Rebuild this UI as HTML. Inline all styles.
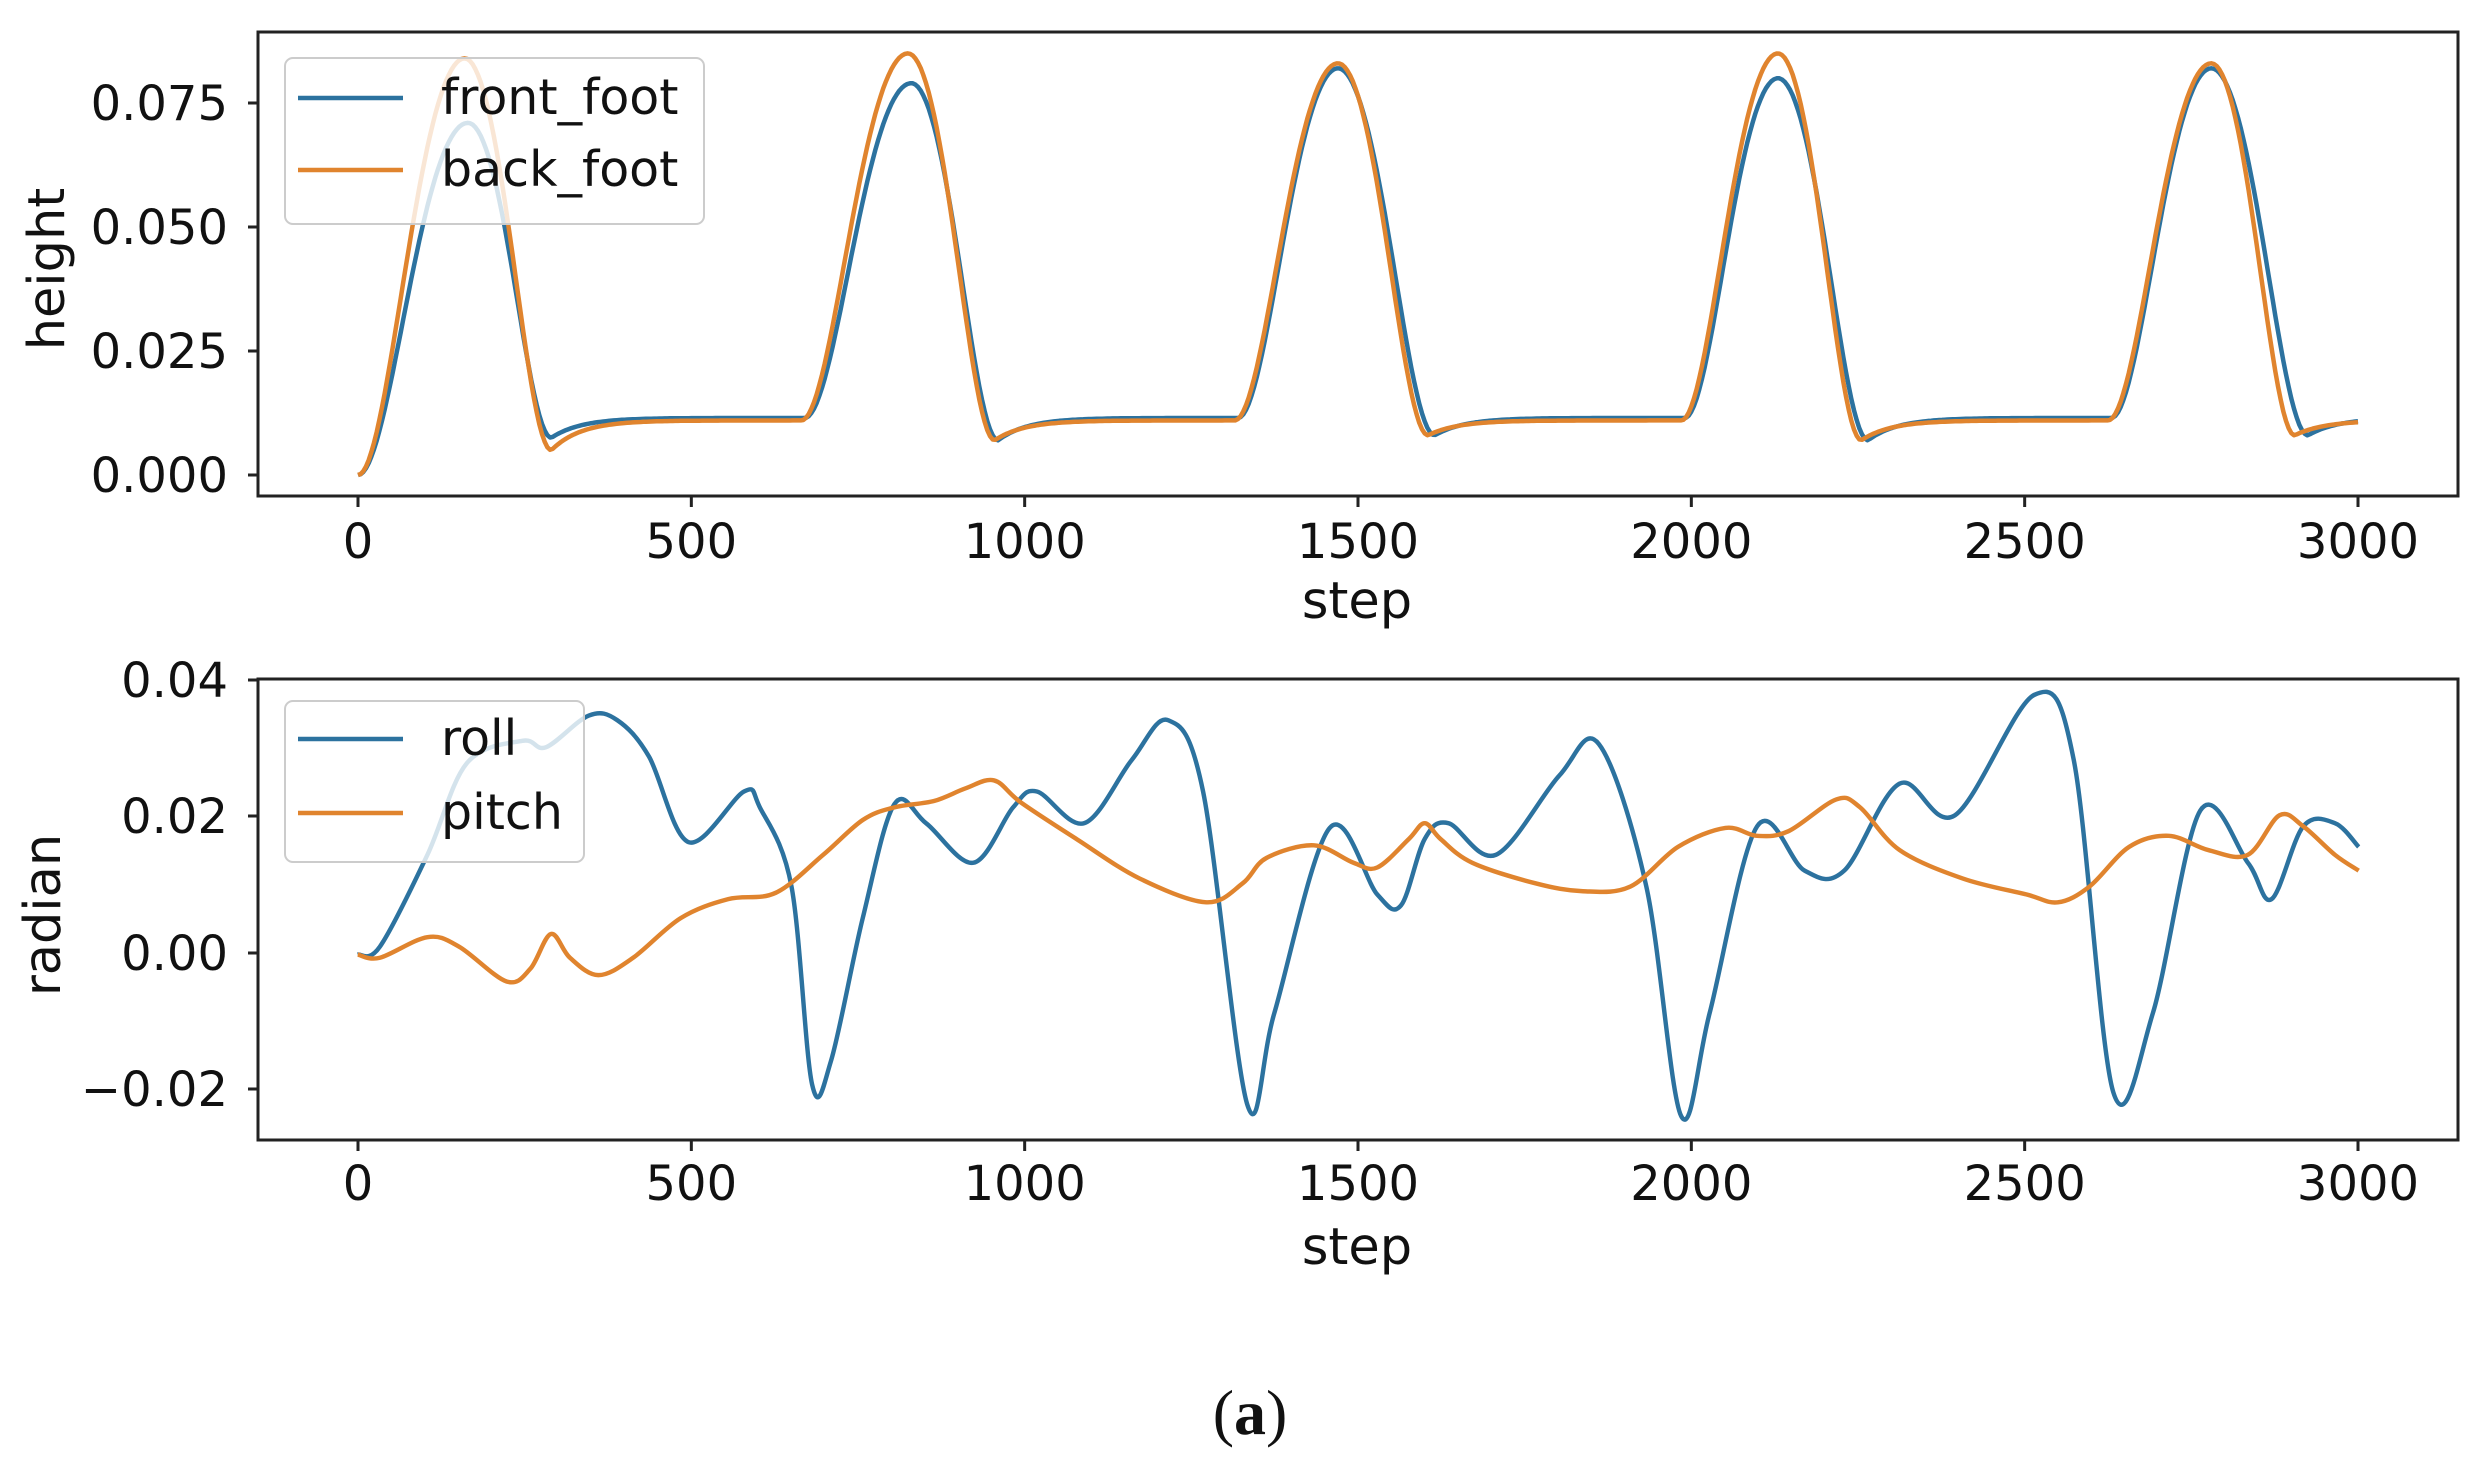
<!DOCTYPE html>
<html><head><meta charset="utf-8"><style>
html,body{margin:0;padding:0;background:#fff;}
svg{display:block}
text{font-family:"DejaVu Sans","Liberation Sans",sans-serif;fill:#111}
</style></head><body>
<svg id="s" width="2482" height="1470" viewBox="0 0 2482 1470" xmlns="http://www.w3.org/2000/svg">
<rect width="2482" height="1470" fill="#fff"/>
<g id="data"></g>
<rect x="258" y="32" width="2200" height="464" fill="none" stroke="#222" stroke-width="3"/>
<rect x="258" y="679" width="2200" height="461" fill="none" stroke="#222" stroke-width="3"/>
<g stroke="#222" stroke-width="3" id="ticks"></g>
<g font-size="48" text-anchor="middle" id="xl"></g>
<g font-size="48" text-anchor="end">
<text x="228" y="120">0.075</text><text x="228" y="244">0.050</text><text x="228" y="368">0.025</text><text x="228" y="492">0.000</text>
<text x="228" y="697">0.04</text><text x="228" y="833">0.02</text><text x="228" y="970">0.00</text><text x="228" y="1106">−0.02</text>
</g>
<text x="1357" y="618" font-size="51" text-anchor="middle">step</text>
<text x="1357" y="1264" font-size="51" text-anchor="middle">step</text>
<text transform="translate(64,269) rotate(-90)" font-size="51" text-anchor="middle">height</text>
<text transform="translate(60,915) rotate(-90)" font-size="51" text-anchor="middle">radian</text>
<rect x="285" y="58" width="419" height="166" rx="8" fill="#fff" fill-opacity="0.8" stroke="#ccc" stroke-width="2"/>
<line x1="298" y1="98" x2="403" y2="98" stroke="#2c729f" stroke-width="4.5"/>
<line x1="298" y1="170" x2="403" y2="170" stroke="#e0842e" stroke-width="4.5"/>
<text x="441" y="114" font-size="49">front_foot</text>
<text x="441" y="186" font-size="49">back_foot</text>
<rect x="285" y="701" width="299" height="161" rx="8" fill="#fff" fill-opacity="0.8" stroke="#ccc" stroke-width="2"/>
<line x1="298" y1="739" x2="403" y2="739" stroke="#2c729f" stroke-width="4.5"/>
<line x1="298" y1="813" x2="403" y2="813" stroke="#e0842e" stroke-width="4.5"/>
<text x="441" y="755" font-size="49">roll</text>
<text x="441" y="829" font-size="49">pitch</text>
<text x="1250" y="1434" font-size="64" text-anchor="middle" style="font-family:'Liberation Serif',serif">(<tspan font-weight="bold">a</tspan>)</text>
</svg>
<script>
var NS="http://www.w3.org/2000/svg";
function el(t,a,p){var e=document.createElementNS(NS,t);for(var k in a)e.setAttribute(k,a[k]);p.appendChild(e);return e;}
var tk=document.getElementById('ticks'),xl=document.getElementById('xl'),dg=document.getElementById('data');
[0,500,1000,1500,2000,2500,3000].forEach(function(s){var x=358+s*2/3;
 el('line',{x1:x,y1:496,x2:x,y2:507},tk);el('line',{x1:x,y1:1140,x2:x,y2:1151},tk);
 var t=el('text',{x:x,y:558},xl);t.textContent=s;var t2=el('text',{x:x,y:1200},xl);t2.textContent=s;});
[103,227,351,475,680,816,953,1089].forEach(function(y){el('line',{x1:248,y1:y,x2:258,y2:y},tk);});
function rise(u){var a=Math.pow(Math.sin(Math.PI/2*u),2),b=Math.sin(Math.PI/2*u);return 0.45*a+0.55*b*b*(2-b);}
function heightFn(peaks,b,t){
 for(var i=0;i<peaks.length;i++){var p=peaks[i];var nxt=peaks[i+1];
  if(t>=p.s&&t<=p.p){var u=(t-p.s)/(p.p-p.s);var s0=(i==0?0:b);return s0+(p.A-s0)*rise(u);}
  if(t>p.p&&t<=p.e){var u=(t-p.p)/(p.e-p.p);return p.T+(p.A-p.T)*rise(1-u);}
  if(t>p.e&&(!nxt||t<nxt.s)){return b-(b-p.T)*Math.exp(-(t-p.e)/45);}
 }return b;}
var front=[{s:0,p:165,e:290,A:0.071,T:0.0075},{s:670,p:830,e:960,A:0.079,T:0.007},{s:1320,p:1470,e:1615,A:0.082,T:0.008},{s:1990,p:2130,e:2265,A:0.080,T:0.007},{s:2630,p:2780,e:2925,A:0.082,T:0.008}];
var back=[{s:0,p:160,e:290,A:0.084,T:0.005},{s:665,p:825,e:955,A:0.085,T:0.007},{s:1315,p:1470,e:1605,A:0.083,T:0.008},{s:1985,p:2130,e:2255,A:0.085,T:0.007},{s:2625,p:2780,e:2905,A:0.083,T:0.008}];
function hpath(pk,b,col){var d='';for(var t=0;t<=3000;t+=4){var x=358+t*2/3,y=475-heightFn(pk,b,t)*4960;d+=(t?'L':'M')+x.toFixed(1)+' '+y.toFixed(1);}
 el('path',{d:d,fill:'none',stroke:col,'stroke-width':4.5,'stroke-linejoin':'round'},dg);}
hpath(front,0.0115,'#2c729f');hpath(back,0.011,'#e0842e');
function cr(pts){var d='M'+pts[0][0]+' '+pts[0][1];for(var i=0;i<pts.length-1;i++){var p0=pts[i-1]||pts[i],p1=pts[i],p2=pts[i+1],p3=pts[i+2]||p2;
 d+='C'+(p1[0]+(p2[0]-p0[0])/6).toFixed(2)+' '+(p1[1]+(p2[1]-p0[1])/6).toFixed(2)+' '+(p2[0]-(p3[0]-p1[0])/6).toFixed(2)+' '+(p2[1]-(p3[1]-p1[1])/6).toFixed(2)+' '+p2[0]+' '+p2[1];}return d;}
var roll=[[226,603],[240,598],[270,540],[295,482],[330,468],[345,472],[372,452],[390,455],[410,478],[435,532],[470,500],[480,510],[500,560],[513,685],[525,670],[545,580],[565,508],[585,520],[615,545],[640,510],[655,500],[685,520],[715,480],[738,455],[760,500],[788,698],[805,640],[840,523],[870,565],[885,572],[900,530],[915,520],[945,540],[985,490],[1010,470],[1040,560],[1062,705],[1080,640],[1110,522],[1140,550],[1165,550],[1200,495],[1235,515],[1285,439],[1310,480],[1335,690],[1360,640],[1390,512],[1420,545],[1435,568],[1455,522],[1475,520],[1490,535]];
var pitch=[[226,603],[240,605],[270,592],[290,598],[320,620],[335,612],[348,590],[360,605],[378,616],[400,605],[430,580],[460,568],[490,564],[520,540],[545,518],[565,510],[590,506],[610,498],[628,493],[645,507],[680,530],[720,555],[762,570],[785,558],[800,542],[830,534],[855,545],[870,548],[890,530],[900,520],[910,530],[930,545],[970,558],[1000,563],[1030,560],[1060,535],[1090,523],[1110,528],[1130,525],[1160,505],[1175,510],[1200,537],[1240,555],[1280,565],[1300,570],[1320,560],[1345,535],[1370,528],[1395,537],[1420,540],[1440,515],[1455,522],[1475,540],[1490,550]];
var g=el('g',{transform:'scale(1.583)'},dg);
el('path',{d:cr(roll),fill:'none',stroke:'#2c729f','stroke-width':2.8},g);
el('path',{d:cr(pitch),fill:'none',stroke:'#e0842e','stroke-width':2.8},g);
</script>
</body></html>
